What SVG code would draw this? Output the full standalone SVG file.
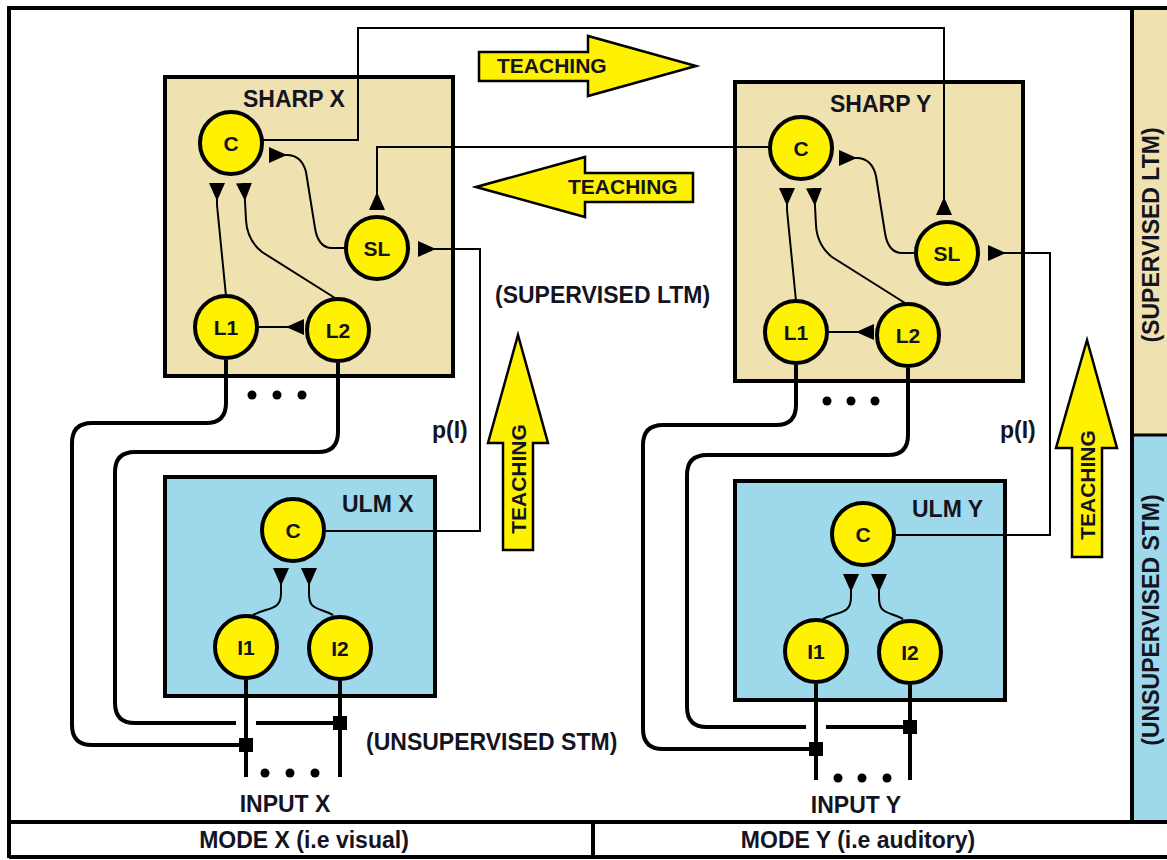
<svg xmlns="http://www.w3.org/2000/svg" width="1167" height="860" viewBox="0 0 1167 860">
  <defs>
    <style>
      .frame { fill: none; stroke: #000; stroke-width: 4; }
      .ltm { fill: #EFE2B0; stroke: #000; stroke-width: 4; }
      .stm { fill: #9DD9EA; stroke: #000; stroke-width: 4; }
      .node { fill: #FFF200; stroke: #000; stroke-width: 4; }
      .wire { fill: none; stroke: #000; stroke-width: 2; }
      .bus { fill: none; stroke: #000; stroke-width: 4; }
      .arrow { fill: #FFF200; stroke: #000; stroke-width: 2.5; stroke-linejoin: miter; }
      .lbl { font-family: "Liberation Sans", Arial, sans-serif; font-weight: bold; font-size: 23px; fill: #14141f; }
      .nl { font-family: "Liberation Sans", Arial, sans-serif; font-weight: bold; font-size: 21px; fill: #14141f; text-anchor: middle; }
      .tl { font-family: "Liberation Sans", Arial, sans-serif; font-weight: bold; font-size: 21px; fill: #14141f; }
    </style>
    <!-- synapse head: base sits on the path end, tip points back along the wire -->
    <marker id="syn" viewBox="0 0 18 16" refX="18" refY="8" markerWidth="18" markerHeight="16" markerUnits="userSpaceOnUse" orient="auto">
      <path d="M18,0 L18,16 L0,8 Z" fill="#000"/>
    </marker>
  </defs>

  <rect width="1167" height="860" fill="#fff"/>

  <!-- side panel -->
  <g id="side-panel">
    <rect x="1134" y="10" width="33" height="425" fill="#EFE2B0"/>
    <rect x="1134" y="435" width="33" height="386" fill="#9DD9EA"/>
    <line x1="1134" y1="435" x2="1167" y2="435" stroke="#000" stroke-width="3"/>
    <text class="lbl" text-anchor="middle" transform="translate(1159,235) rotate(-90)">(SUPERVISED LTM)</text>
    <text class="lbl" text-anchor="middle" transform="translate(1159,620) rotate(-90)">(UNSUPERVISED STM)</text>
  </g>

  <!-- outer frame and footer -->
  <g id="frame">
    <path class="frame" d="M1167,8 H9 V858 M9,822 H1167 M1132,8 V822 M593,822 V858"/>
    <path class="frame" d="M9,857 H1167" stroke-width="3"/>
    <text class="lbl" x="304" y="848" text-anchor="middle">MODE X (i.e visual)</text>
    <text class="lbl" x="858" y="848" text-anchor="middle">MODE Y (i.e auditory)</text>
  </g>

  <!-- module boxes -->
  <g id="sharp-x">
    <rect class="ltm" x="165" y="77" width="288" height="299"/>
    <text class="lbl" x="243" y="107">SHARP X</text>
  </g>
  <g id="sharp-y">
    <rect class="ltm" x="735" y="82" width="288" height="299"/>
    <text class="lbl" x="830" y="112">SHARP Y</text>
  </g>
  <g id="ulm-x">
    <rect class="stm" x="165" y="477" width="270" height="219"/>
    <text class="lbl" x="342" y="512">ULM X</text>
  </g>
  <g id="ulm-y">
    <rect class="stm" x="735" y="481" width="270" height="219"/>
    <text class="lbl" x="912" y="517">ULM Y</text>
  </g>

  <!-- teaching arrows -->
  <g id="teach-right">
    <polygon class="arrow" points="479,52 588,52 588,36 696,66 588,96 588,81 479,81"/>
    <text class="tl" x="497" y="73">TEACHING</text>
  </g>
  <g id="teach-left">
    <polygon class="arrow" points="476,187 585,157 585,173 693,173 693,202 585,202 585,217"/>
    <text class="tl" x="568" y="194">TEACHING</text>
  </g>
  <g id="teach-up-x">
    <polygon class="arrow" points="518,335 548,443 533,443 533,550 503,550 503,443 488,443"/>
    <text class="tl" text-anchor="middle" transform="translate(526,479) rotate(-90)">TEACHING</text>
  </g>
  <g id="teach-up-y">
    <polygon class="arrow" points="1087,340 1117,448 1102,448 1102,557 1072,557 1072,448 1056,448"/>
    <text class="tl" text-anchor="middle" transform="translate(1095,485) rotate(-90)">TEACHING</text>
  </g>

  <!-- connectors -->
  <g id="connectors">
    <!-- SHARP X internal -->
    <path class="wire" d="M226,296 L217,205 V183" marker-end="url(#syn)"/>
    <path class="wire" d="M335,298 L262,252 Q247,240 246,220 L244,183" marker-end="url(#syn)"/>
    <path class="wire" d="M346,248 L331,248 Q318,247 315,228 L306,172 Q302,156 288,155 L269,155" marker-end="url(#syn)"/>
    <path class="wire" d="M258,327 L304,327" marker-end="url(#syn)"/>
    <!-- SHARP Y internal -->
    <path class="wire" d="M796,301 L787,210 V188" marker-end="url(#syn)"/>
    <path class="wire" d="M905,303 L832,257 Q817,245 816,225 L814,188" marker-end="url(#syn)"/>
    <path class="wire" d="M916,253 L901,253 Q888,252 885,233 L876,176 Q872,159 858,158 L839,158" marker-end="url(#syn)"/>
    <path class="wire" d="M828,332 L874,332" marker-end="url(#syn)"/>
    <!-- cross-modal teaching wires -->
    <path class="wire" d="M262,140 H358 V28 H944 V215" marker-end="url(#syn)"/>
    <path class="wire" d="M769,147 H377 V210" marker-end="url(#syn)"/>
    <!-- p(I) from ULM to SL -->
    <path class="wire" d="M326,531 H480 V249 H418" marker-end="url(#syn)"/>
    <path class="wire" d="M896,535 H1050 V253 H988" marker-end="url(#syn)"/>
    <!-- ULM internal -->
    <path class="wire" d="M253,615 C268,607 281,611 281,593 L281,568" marker-end="url(#syn)"/>
    <path class="wire" d="M333,615 C318,607 309,611 309,593 L309,568" marker-end="url(#syn)"/>
    <path class="wire" d="M823,619 C838,611 851,615 851,597 L851,574" marker-end="url(#syn)"/>
    <path class="wire" d="M903,619 C888,611 879,615 879,597 L879,574" marker-end="url(#syn)"/>
    <!-- inputs -->
    <path class="bus" d="M246,680 V777 M340,681 V777"/>
    <path class="bus" d="M816,684 V780 M910,685 V780"/>
    <!-- feedback loops from SHARP to inputs -->
    <path class="bus" d="M226,360 V403 Q226,423 206,423 H92 Q72,423 72,443 V725 Q72,745 92,745 H246"/>
    <path class="bus" d="M338,363 V432 Q338,452 318,452 H135 Q115,452 115,472 V703 Q115,723 135,723 H236 M256,723 H340"/>
    <path class="bus" d="M796,365 V405 Q796,425 776,425 H663 Q643,425 643,445 V729 Q643,749 663,749 H816"/>
    <path class="bus" d="M908,368 V435 Q908,455 888,455 H707 Q687,455 687,475 V707 Q687,727 707,727 H806 M826,727 H910"/>
    <!-- junctions -->
    <rect x="239" y="738" width="14" height="14" fill="#000"/>
    <rect x="333" y="716" width="14" height="14" fill="#000"/>
    <rect x="809" y="742" width="14" height="14" fill="#000"/>
    <rect x="903" y="720" width="14" height="14" fill="#000"/>
    <!-- ellipses -->
    <g fill="#000">
      <circle cx="252" cy="395" r="4.5"/><circle cx="277" cy="395" r="4.5"/><circle cx="302" cy="395" r="4.5"/>
      <circle cx="827" cy="401" r="4.5"/><circle cx="851" cy="401" r="4.5"/><circle cx="875" cy="401" r="4.5"/>
      <circle cx="265" cy="773" r="4.5"/><circle cx="290" cy="773" r="4.5"/><circle cx="315" cy="773" r="4.5"/>
      <circle cx="838" cy="778" r="4.5"/><circle cx="862" cy="778" r="4.5"/><circle cx="887" cy="778" r="4.5"/>
    </g>
  </g>

  <!-- nodes -->
  <g id="sx-c"><circle class="node" cx="231" cy="143" r="31"/><text class="nl" x="231" y="150.5">C</text></g>
  <g id="sx-sl"><circle class="node" cx="377" cy="248" r="31"/><text class="nl" x="377" y="255.5">SL</text></g>
  <g id="sx-l1"><circle class="node" cx="226" cy="327" r="31"/><text class="nl" x="226" y="334.5">L1</text></g>
  <g id="sx-l2"><circle class="node" cx="338" cy="330" r="31"/><text class="nl" x="338" y="337.5">L2</text></g>

  <g id="sy-c"><circle class="node" cx="801" cy="148" r="31"/><text class="nl" x="801" y="155.5">C</text></g>
  <g id="sy-sl"><circle class="node" cx="947" cy="253" r="31"/><text class="nl" x="947" y="260.5">SL</text></g>
  <g id="sy-l1"><circle class="node" cx="796" cy="332" r="31"/><text class="nl" x="796" y="339.5">L1</text></g>
  <g id="sy-l2"><circle class="node" cx="908" cy="335" r="31"/><text class="nl" x="908" y="342.5">L2</text></g>

  <g id="ux-c"><circle class="node" cx="293" cy="530" r="31"/><text class="nl" x="293" y="537.5">C</text></g>
  <g id="ux-i1"><circle class="node" cx="246" cy="647" r="31"/><text class="nl" x="246" y="654.5">I1</text></g>
  <g id="ux-i2"><circle class="node" cx="340" cy="648" r="31"/><text class="nl" x="340" y="655.5">I2</text></g>

  <g id="uy-c"><circle class="node" cx="863" cy="534" r="31"/><text class="nl" x="863" y="541.5">C</text></g>
  <g id="uy-i1"><circle class="node" cx="816" cy="651" r="31"/><text class="nl" x="816" y="658.5">I1</text></g>
  <g id="uy-i2"><circle class="node" cx="910" cy="652" r="31"/><text class="nl" x="910" y="659.5">I2</text></g>

  <!-- free labels -->
  <g id="labels">
    <text class="lbl" x="495" y="303">(SUPERVISED LTM)</text>
    <text class="lbl" x="366" y="750">(UNSUPERVISED STM)</text>
    <text class="lbl" x="432" y="438">p(I)</text>
    <text class="lbl" x="1000" y="438">p(I)</text>
    <text class="lbl" x="285" y="812" text-anchor="middle">INPUT X</text>
    <text class="lbl" x="856" y="813" text-anchor="middle">INPUT Y</text>
  </g>
</svg>
